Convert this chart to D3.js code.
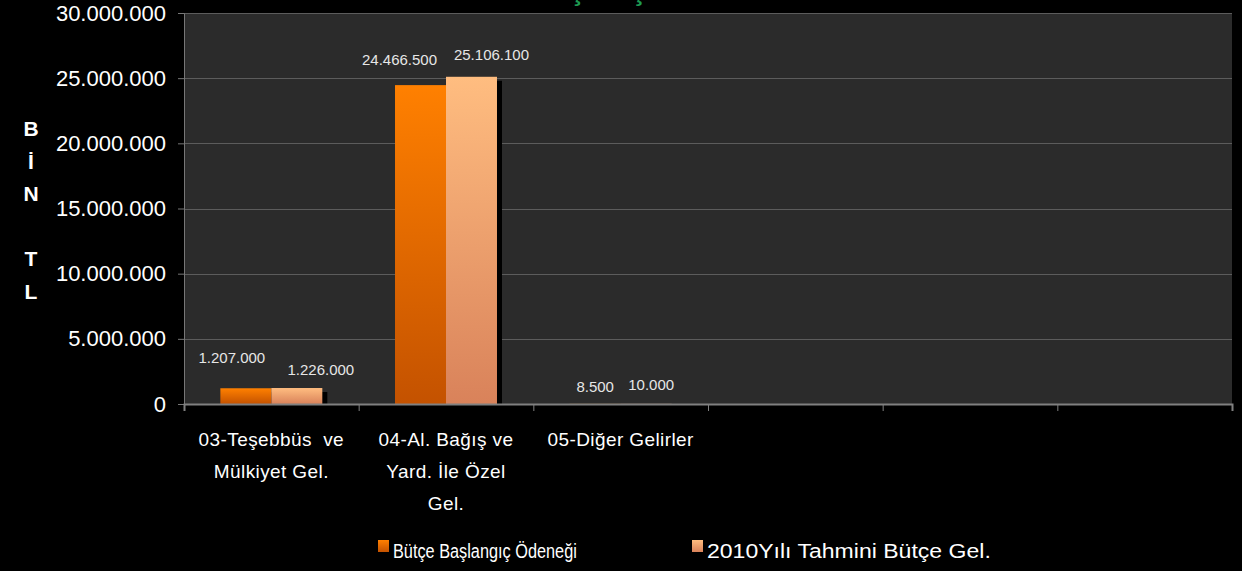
<!DOCTYPE html>
<html>
<head>
<meta charset="utf-8">
<script src="https://cdn.jsdelivr.net/npm/d3@7"></script>
<style>
  html, body { margin: 0; padding: 0; background: #000; }
  svg { display: block; }
  text { font-family: "Liberation Sans", Arial, sans-serif; }
</style>
</head>
<body>
<div id="chart"></div>
<script>
// categories (6 slots, last 3 empty like the original)
const categories = ["c1", "c2", "c3", "c4", "c5", "c6"];
const categoryLines = [
  ["03-Teşebbüs  ve", "Mülkiyet Gel."],
  ["04-Al. Bağış ve", "Yard. İle Özel", "Gel."],
  ["05-Diğer Gelirler"],
  [], [], []
];
const seriesNames = ["Bütçe Başlangıç Ödeneği", "2010Yılı Tahmini Bütçe Gel."];
const butceBaslangic = [1207000, 24466500, 8500];
const tahminiGelir = [1226000, 25106100, 10000];
const yTicks = [0, 5000000, 10000000, 15000000, 20000000, 25000000, 30000000];
const yAxisLetters = ["B", "İ", "N", "", "T", "L"];
const titleText = "2010 YILI GELİR KARŞILAŞTIRMASI";

// label nudges (layout only), per series per category
const labelDx = [[-14, -21, 0], [24, 20, 5]];
const labelDy = [[-25, -20, -12], [-13, -17, -14]];

const width = 1242, height = 571;
const plot = { left: 184, right: 1232, top: 13, bottom: 404 };

const trLocale = d3.formatLocale({ decimal: ",", thousands: ".", grouping: [3], currency: ["", " TL"] });
const fmt = trLocale.format(",d");

const svg = d3.select("#chart").append("svg")
  .attr("width", width).attr("height", height);

svg.append("rect").attr("width", width).attr("height", height).attr("fill", "#000");

const defs = svg.append("defs");
const gradColors = [["#ff8000", "#c45200"], ["#ffbd80", "#d9825a"]];
gradColors.forEach((c, i) => {
  const g = defs.append("linearGradient").attr("id", "grad" + i)
    .attr("x1", 0).attr("y1", 0).attr("x2", 0).attr("y2", 1);
  g.append("stop").attr("offset", "0%").attr("stop-color", c[0]);
  g.append("stop").attr("offset", "100%").attr("stop-color", c[1]);
});
defs.append("clipPath").attr("id", "plotclip").append("rect")
  .attr("x", plot.left).attr("y", plot.top)
  .attr("width", plot.right - plot.left).attr("height", plot.bottom - plot.top);

// title (mostly above the visible area, as in the original)
const title = svg.append("text")
  .attr("y", 0)
  .attr("fill", "#1e9a52")
  .attr("font-weight", "bold")
  .attr("font-size", 27)
  .text(titleText);
const sIdx = titleText.indexOf("Ş");
const sPos = title.node().getSubStringLength(0, sIdx) + title.node().getSubStringLength(sIdx, 1) / 2;
title.attr("x", 577 - sPos);

// scales
const x = d3.scaleBand().domain(categories).range([plot.left, plot.right]).padding(0);
const x1 = d3.scaleBand().domain([0, 1]).range([0, x.bandwidth()]).paddingInner(0).paddingOuter(0.713);
const y = d3.scaleLinear().domain([0, 30000000]).range([plot.bottom, plot.top]);
const xi = d3.scaleLinear().domain([0, categories.length]).range([plot.left, plot.right]);

// plot background
svg.append("rect")
  .attr("x", plot.left).attr("y", plot.top)
  .attr("width", plot.right - plot.left).attr("height", plot.bottom - plot.top)
  .attr("fill", "#2b2b2b");

// gridlines
svg.append("g").selectAll("line")
  .data(yTicks.filter(d => d > 0))
  .join("line")
  .attr("x1", plot.left).attr("x2", plot.right)
  .attr("y1", d => Math.round(y(d)) + 0.5).attr("y2", d => Math.round(y(d)) + 0.5)
  .attr("stroke", "#5c5c5c").attr("stroke-width", 1);

// bars
const series = [butceBaslangic, tahminiGelir];
const barData = [];
series.forEach((vals, s) => vals.forEach((v, c) => barData.push({ s, c, v })));

const barsG = svg.append("g").attr("clip-path", "url(#plotclip)");
// shadows
barsG.selectAll("rect.shadow")
  .data(barData)
  .join("rect")
  .attr("class", "shadow")
  .attr("x", d => x(categories[d.c]) + x1(d.s) + 5)
  .attr("y", d => y(d.v) + 4)
  .attr("width", x1.bandwidth())
  .attr("height", d => plot.bottom - y(d.v))
  .attr("fill", "#000");
barsG.selectAll("rect.bar")
  .data(barData)
  .join("rect")
  .attr("class", "bar")
  .attr("x", d => x(categories[d.c]) + x1(d.s))
  .attr("y", d => y(d.v))
  .attr("width", x1.bandwidth())
  .attr("height", d => plot.bottom - y(d.v))
  .attr("fill", d => `url(#grad${d.s})`);

// data labels
svg.append("g").selectAll("text")
  .data(barData)
  .join("text")
  .attr("x", d => x(categories[d.c]) + x1(d.s) + x1.bandwidth() / 2 + labelDx[d.s][d.c])
  .attr("y", d => y(d.v) + labelDy[d.s][d.c])
  .attr("text-anchor", "middle")
  .attr("font-size", 15)
  .attr("fill", "#e6e6e6")
  .text(d => fmt(d.v));

// y axis
const yAxis = svg.append("g")
  .attr("transform", `translate(${plot.left},0)`)
  .call(d3.axisLeft(y).tickValues(yTicks).tickSize(6).tickPadding(12).tickFormat(d => d === 0 ? "0" : fmt(d)));
yAxis.select(".domain").attr("stroke", "#777");
yAxis.selectAll(".tick line").attr("stroke", "#777");
yAxis.selectAll(".tick text").attr("fill", "#fff").attr("font-size", 22)
  .attr("font-family", "'Liberation Sans', Arial, sans-serif");

// x axis (tick marks at category boundaries)
const xAxis = svg.append("g")
  .attr("transform", `translate(0,${plot.bottom})`)
  .call(d3.axisBottom(xi).tickValues(d3.range(categories.length + 1)).tickSize(7).tickFormat(""));
xAxis.select(".domain").attr("stroke", "#808080").attr("stroke-width", 2);
xAxis.selectAll(".tick line").attr("stroke", "#808080");

// category labels
const catG = svg.append("g");
categories.forEach((c, i) => {
  const t = catG.append("text")
    .attr("text-anchor", "middle")
    .attr("font-size", 19)
    .attr("letter-spacing", 0.4)
    .attr("fill", "#fff");
  categoryLines[i].forEach((line, k) => {
    t.append("tspan")
      .attr("x", x(c) + x.bandwidth() / 2)
      .attr("y", 446 + k * 32)
      .style("white-space", "pre")
      .text(line);
  });
});

// y axis title, stacked letters
svg.append("g").selectAll("text")
  .data(yAxisLetters)
  .join("text")
  .attr("x", 31)
  .attr("y", (d, i) => 136 + i * 32.5)
  .attr("text-anchor", "middle")
  .attr("font-weight", "bold")
  .attr("font-size", 21)
  .attr("fill", "#fff")
  .text(d => d);

// legend - text squeezed horizontally like the original narrow font
const legendX = [378, 692];
const legendW = [184, 284];
const legend = svg.append("g");
seriesNames.forEach((name, i) => {
  legend.append("rect")
    .attr("x", legendX[i]).attr("y", 540)
    .attr("width", 11).attr("height", 12)
    .attr("fill", `url(#grad${i})`);
  const t = legend.append("text")
    .attr("font-size", 21)
    .attr("fill", "#fff")
    .text(name);
  const w = t.node().getComputedTextLength();
  t.attr("transform", `translate(${legendX[i] + 15},558) scale(${legendW[i] / w},1)`);
});
</script>
</body>
</html>
